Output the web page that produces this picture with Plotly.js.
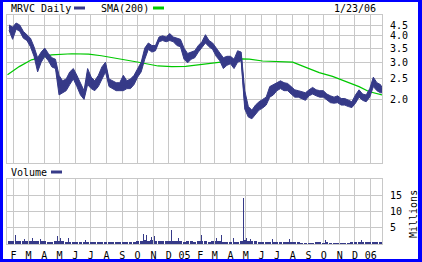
<!DOCTYPE html>
<html>
<head>
<meta charset="utf-8">
<script src="https://cdn.plot.ly/plotly-3.0.1.min.js"></script>
<style>
html,body{margin:0;padding:0;background:#fff;}
#chart{width:422px;height:262px;}
</style>
</head>
<body>
<div id="chart"></div>
<script>
// ---- data ----
const weekStart = '2004-01-23';           // first weekly observation (Friday)
const lastDate = '2006-01-23';
const price = [4.4,4.3,4.45,4.4,4.05,3.9,3.75,3.35,2.9,3.2,
  3.4,3.2,3.05,2.95,2.3,2.3,2.35,2.5,2.7,2.4,
  2.25,2.05,2.65,2.4,2.3,2.4,2.7,2.9,2.4,2.35,
  2.3,2.3,2.3,2.35,2.35,2.5,2.7,2.85,3.35,3.6,
  3.45,3.5,3.85,3.9,3.85,3.9,3.85,3.75,3.7,3.3,
  3.15,3.25,3.3,3.45,3.6,3.85,3.65,3.55,3.35,3.2,
  3.0,3.05,3.1,2.95,3.15,3.2,1.95,1.72,1.68,1.78,
  1.85,1.9,1.95,2.15,2.2,2.3,2.35,2.3,2.3,2.2,
  2.15,2.12,2.1,2.05,2.15,2.2,2.15,2.1,2.12,2.05,
  2.0,1.98,2.0,1.95,1.95,1.9,1.88,2.0,2.15,2.05,
  2.02,2.15,2.45,2.3,2.25,2.2];
const priceHigh = [4.5,4.4,4.6,4.5,4.2,4.05,3.9,3.55,3.15,3.35,
  3.5,3.3,3.15,3.1,2.6,2.45,2.5,2.7,2.8,2.6,
  2.4,2.2,2.8,2.55,2.45,2.6,2.85,3.0,2.5,2.45,
  2.4,2.4,2.6,2.45,2.5,2.6,2.8,3.0,3.5,3.7,
  3.6,3.6,3.95,4.0,3.95,4.1,3.95,3.9,3.85,3.5,
  3.3,3.35,3.4,3.6,3.75,4.05,3.8,3.7,3.5,3.35,
  3.15,3.2,3.2,3.1,3.4,3.35,2.2,1.85,1.78,1.88,
  1.95,2.0,2.05,2.3,2.35,2.4,2.45,2.4,2.38,2.3,
  2.22,2.2,2.18,2.15,2.22,2.28,2.22,2.2,2.2,2.12,
  2.08,2.05,2.08,2.02,2.02,1.98,1.95,2.1,2.22,2.12,
  2.1,2.25,2.55,2.4,2.35,2.28];
const priceLow = [4.25,3.85,4.3,4.2,3.9,3.8,3.55,3.2,2.7,3.0,
  3.2,3.05,2.85,2.8,2.1,2.15,2.2,2.35,2.5,2.3,
  2.1,2.0,2.35,2.25,2.2,2.3,2.5,2.7,2.3,2.25,
  2.2,2.2,2.2,2.25,2.25,2.35,2.55,2.7,3.1,3.45,
  3.35,3.4,3.75,3.8,3.75,3.8,3.75,3.6,3.55,3.1,
  2.98,3.1,3.15,3.35,3.5,3.7,3.55,3.45,3.2,3.05,
  2.8,2.9,2.95,2.8,3.0,3.05,1.8,1.65,1.62,1.7,
  1.78,1.82,1.88,2.05,2.1,2.2,2.25,2.2,2.2,2.12,
  2.05,2.05,2.02,1.98,2.08,2.12,2.08,2.05,2.05,1.98,
  1.93,1.92,1.93,1.88,1.88,1.85,1.83,1.92,2.05,1.98,
  1.95,2.05,2.3,2.2,2.15,2.15];
const volBase = [0.9,0.9,1.0,0.8,0.8,0.9,1.0,0.9,1.0,0.8,0.8,0.7,0.7,0.9,
  1.0,0.8,0.7,0.7,0.6,0.6,0.6,
  0.6,0.7,0.5,0.5,0.6,0.6,0.7,0.5,0.5,0.5,0.5,0.6,0.6,
  0.7,0.7,0.8,1.0,1.2,1.0,1.1,1.0,1.0,0.9,0.9,1.0,0.9,
  0.8,0.8,0.7,0.8,0.8,0.7,0.8,0.9,0.8,0.7,0.8,0.8,0.8,0.7,0.7,0.7,0.7,0.7,0.8,
  1.1,1.0,0.9,0.8,0.7,0.7,0.7,0.6,0.6,0.6,
  0.5,0.6,0.5,0.5,0.5,0.5,0.4,0.4,0.4,0.4,0.5,0.5,0.4,0.5,0.4,0.4,0.4,0.4,0.4,0.4,0.5,0.5,0.6,0.6,0.6,
  0.6,0.7,0.7,0.7,0.7];
const spikeDates = ['2004-02-05','2004-02-23','2004-03-09','2004-03-16','2004-03-25','2004-04-27','2004-05-03',
  '2004-05-19','2004-06-21','2004-07-27','2004-10-12','2004-10-19','2004-10-29','2004-11-03','2004-12-06',
  '2004-12-20','2005-02-04','2005-03-04','2005-03-14','2005-04-07','2005-04-26','2005-04-27','2005-05-02',
  '2005-05-10','2005-06-22','2005-07-26','2005-10-05','2005-12-07','2005-12-14'];
const spikeValues = [2.8,1.5,1.9,1.9,1.5,2.5,2.0,1.9,1.4,1.8,3.1,2.7,2.3,2.5,4.4,1.9,2.8,1.9,2.8,1.9,14.4,5.0,2.0,1.5,1.5,1.5,1.1,3.1,1.3];
const smaDates = ['2004-01-20','2004-02-12','2004-03-07','2004-03-26','2004-04-15','2004-05-25','2004-06-27',
  '2004-07-22','2004-08-30','2004-10-03','2004-11-10','2004-12-07','2005-01-03','2005-01-30','2005-02-18',
  '2005-03-17','2005-04-25','2005-05-08','2005-06-03','2005-07-18','2005-08-01','2005-08-28','2005-09-22',
  '2005-10-18','2005-11-13','2005-12-09','2005-12-28','2006-01-23'];
const smaValues = [2.62,2.86,3.08,3.17,3.25,3.29,3.28,3.22,3.11,3.0,2.88,2.86,2.87,2.92,2.96,3.01,3.11,3.1,3.04,3.01,3.0,2.83,2.68,2.57,2.43,2.3,2.18,2.1];
const monthTicks = ['2004-02-01','2004-03-01','2004-04-01','2004-05-01','2004-06-01','2004-07-01','2004-08-01',
  '2004-09-01','2004-10-01','2004-11-01','2004-12-01','2005-01-01','2005-02-01','2005-03-01','2005-04-01',
  '2005-05-01','2005-06-01','2005-07-01','2005-08-01','2005-09-01','2005-10-01','2005-11-01','2005-12-01','2006-01-01'];
const monthLabels = ['F','M','A','M','J','J','A','S','O','N','D','05','F','M','A','M','J','J','A','S','O','N','D','06'];
const priceTicks = [2.0,2.5,3.0,3.5,4.0,4.5];
const priceTickText = ['2.0','2.5','3.0','3.5','4.0','4.5'];
const volTicks = [5,10,15];

// weekly observation dates
const dates = [];
{
  const t0 = Date.parse(weekStart + 'T00:00:00Z');
  for (let k = 0; k < price.length - 1; k++) {
    dates.push(new Date(t0 + k * 7 * 86400000).toISOString().slice(0,10));
  }
  dates.push(lastDate);
}

// ---- style ----
const W = 422, H = 262;
const NAVY = '#363a88', GREEN = '#00c800', GRID = '#c8c8c8', BLUE = '#0000ff';
const FONT = 'DejaVu Sans Mono';
const px = v => v / W, py = v => 1 - v / H;
const DAY = 86400000;

const traces = [
  {type:'bar', x:dates, y:volBase, xaxis:'x', yaxis:'y', marker:{color:NAVY, line:{width:0}}, width:6*DAY},
  {type:'bar', x:spikeDates, y:spikeValues, xaxis:'x', yaxis:'y', marker:{color:NAVY, line:{width:0}}, width:1.6*DAY},
  {type:'scatter', mode:'lines', x:smaDates, y:smaValues, xaxis:'x2', yaxis:'y2', line:{color:GREEN, width:1.2}},
  {type:'scatter', mode:'lines', x:dates, y:priceLow, xaxis:'x2', yaxis:'y2', line:{color:NAVY, width:1}},
  {type:'scatter', mode:'lines', x:dates, y:priceHigh, xaxis:'x2', yaxis:'y2', line:{color:NAVY, width:1}, fill:'tonexty', fillcolor:NAVY},
  {type:'scatter', mode:'lines', x:dates, y:price, xaxis:'x2', yaxis:'y2', line:{color:NAVY, width:1.5}}
];

const xCommon = {
  type:'date', range:['2004-01-19','2006-01-23'], domain:[px(7), px(382)],
  tickvals:monthTicks, ticktext:monthLabels, showgrid:true, gridcolor:GRID, gridwidth:1,
  showline:true, mirror:true, linecolor:GRID, linewidth:1, zeroline:false, ticks:'',
  tickfont:{family:FONT, size:10, color:'#000'}
};

const layout = {
  width:W, height:H, margin:{l:0,r:0,t:0,b:0, pad:0},
  paper_bgcolor:'#fff', plot_bgcolor:'#fff', showlegend:false, barmode:'overlay', bargap:0,
  xaxis: Object.assign({}, xCommon, {anchor:'y', ticklabelstandoff:2}),
  xaxis2: Object.assign({}, xCommon, {anchor:'y2', matches:'x', showticklabels:false}),
  yaxis: {domain:[py(244), py(179)], range:[0,20.3], side:'right', anchor:'x',
    tickvals:volTicks, showgrid:true, gridcolor:GRID, showline:true, mirror:true, linecolor:GRID,
    zeroline:false, ticks:'', ticklabelstandoff:5, tickfont:{family:FONT, size:10, color:'#000'}},
  yaxis2: {domain:[py(163), py(15)], type:'log', range:[Math.log10(1.0), Math.log10(5.02)], side:'right', anchor:'x2',
    tickvals:priceTicks, ticktext:priceTickText, showgrid:true, gridcolor:GRID, showline:true, mirror:true,
    linecolor:GRID, zeroline:false, ticks:'', ticklabelstandoff:5, tickfont:{family:FONT, size:10, color:'#000'}},
  annotations: [
    {text:'MRVC Daily', xref:'paper', yref:'paper', x:px(9), y:py(8), xanchor:'left', yanchor:'middle', showarrow:false, font:{family:FONT,size:10,color:'#000'}},
    {text:'SMA(200)', xref:'paper', yref:'paper', x:px(99), y:py(8), xanchor:'left', yanchor:'middle', showarrow:false, font:{family:FONT,size:10,color:'#000'}},
    {text:'1/23/06', xref:'paper', yref:'paper', x:px(378), y:py(8), xanchor:'right', yanchor:'middle', showarrow:false, font:{family:FONT,size:10,color:'#000'}},
    {text:'Volume', xref:'paper', yref:'paper', x:px(9), y:py(172), xanchor:'left', yanchor:'middle', showarrow:false, font:{family:FONT,size:10,color:'#000'}},
    {text:'Millions', xref:'paper', yref:'paper', x:px(413), y:py(214), xanchor:'center', yanchor:'middle', textangle:-90, showarrow:false, font:{family:FONT,size:10,color:'#000'}}
  ],
  shapes: [
    {type:'line', xref:'paper', yref:'paper', x0:px(74), x1:px(85), y0:py(8), y1:py(8), line:{color:NAVY, width:3}},
    {type:'line', xref:'paper', yref:'paper', x0:px(153), x1:px(164), y0:py(8), y1:py(8), line:{color:GREEN, width:3}},
    {type:'line', xref:'paper', yref:'paper', x0:px(51), x1:px(62), y0:py(172), y1:py(172), line:{color:NAVY, width:3}},
    {type:'rect', xref:'paper', yref:'paper', x0:0, x1:1, y0:py(2), y1:1, line:{width:0}, fillcolor:BLUE, layer:'above'},
    {type:'rect', xref:'paper', yref:'paper', x0:0, x1:px(3), y0:0, y1:1, line:{width:0}, fillcolor:BLUE, layer:'above'},
    {type:'rect', xref:'paper', yref:'paper', x0:px(418), x1:1, y0:0, y1:1, line:{width:0}, fillcolor:BLUE, layer:'above'},
    {type:'rect', xref:'paper', yref:'paper', x0:0, x1:1, y0:0, y1:py(259), line:{width:0}, fillcolor:BLUE, layer:'above'}
  ]
};

Plotly.newPlot('chart', traces, layout, {staticPlot:true, displayModeBar:false});
</script>
</body>
</html>
